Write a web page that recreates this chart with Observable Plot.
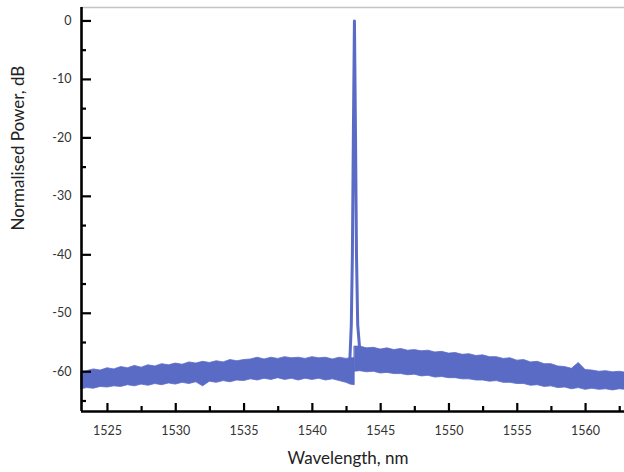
<!DOCTYPE html>
<html><head><meta charset="utf-8">
<script src="https://cdn.jsdelivr.net/npm/d3@7"></script>
<script src="https://cdn.jsdelivr.net/npm/@observablehq/plot@0.6"></script>
<style>body{margin:0;background:#fff;} #chart{width:624px;height:472px;}</style>
</head><body><div id="chart"></div>
<script>
// Noise floor left of the lasing line (wavelength nm, upper / lower envelope dB)
const leftWl = [1523.1, 1523.5, 1524, 1524.5, 1525, 1525.5, 1526, 1526.5, 1527, 1527.5, 1528, 1528.5, 1529, 1529.5, 1530, 1530.5, 1531, 1531.5, 1532, 1532.5, 1533, 1533.5, 1534, 1534.5, 1535, 1535.5, 1536, 1536.5, 1537, 1537.5, 1538, 1538.5, 1539, 1539.5, 1540, 1540.5, 1541, 1541.5, 1542, 1542.5, 1542.8, 1543.1];
const leftHi = [-60.0, -59.9, -59.6, -59.8, -59.4, -59.6, -59.2, -59.4, -59.0, -59.3, -58.9, -59.1, -58.7, -58.9, -58.6, -58.8, -58.4, -58.6, -58.3, -58.5, -58.2, -58.4, -58.0, -58.2, -58.0, -57.9, -57.6, -57.9, -57.6, -57.8, -57.5, -57.7, -57.6, -57.8, -57.5, -57.7, -57.6, -57.9, -57.6, -57.8, -57.7, -57.7];
const leftLo = [-63.0, -62.8, -62.9, -62.6, -62.7, -62.5, -62.6, -62.3, -62.5, -62.2, -62.4, -62.1, -62.3, -62.0, -62.2, -61.9, -62.1, -61.8, -62.5, -61.7, -61.9, -61.6, -61.8, -61.5, -61.6, -61.3, -61.5, -61.2, -61.4, -61.1, -61.4, -61.2, -61.5, -61.2, -61.4, -61.2, -61.5, -61.3, -61.6, -61.9, -62.2, -62.3];
// Noise floor right of the lasing line
const rightWl = [1543.1, 1543.5, 1544, 1544.5, 1545, 1545.5, 1546, 1546.5, 1547, 1547.5, 1548, 1548.5, 1549, 1549.5, 1550, 1550.5, 1551, 1551.5, 1552, 1552.5, 1553, 1553.5, 1554, 1554.5, 1555, 1555.5, 1556, 1556.5, 1557, 1557.5, 1558, 1558.5, 1559, 1559.5, 1560, 1560.5, 1561, 1561.5, 1562, 1562.5, 1563];
const rightHi = [-55.7, -55.7, -56.0, -55.9, -56.2, -56.0, -56.3, -56.1, -56.4, -56.3, -56.5, -56.4, -56.7, -56.6, -56.9, -56.8, -57.1, -57.0, -57.3, -57.2, -57.5, -57.5, -57.8, -57.7, -58.1, -58.0, -58.4, -58.3, -58.7, -58.7, -59.1, -59.2, -59.5, -58.5, -59.7, -59.8, -60.0, -59.9, -60.1, -60.0, -60.2];
const rightLo = [-60.0, -59.9, -60.1, -60.0, -60.3, -60.2, -60.4, -60.4, -60.6, -60.5, -60.8, -60.7, -61.0, -60.9, -61.1, -61.1, -61.3, -61.3, -61.5, -61.5, -61.7, -61.6, -61.9, -61.9, -62.1, -62.1, -62.4, -62.3, -62.6, -62.5, -62.8, -62.7, -63.0, -62.8, -63.1, -62.9, -63.1, -63.0, -63.2, -63.0, -63.1];
// Lasing peak
const peakWl = [1542.75, 1542.85, 1542.93, 1543.0, 1543.08, 1543.16, 1543.23, 1543.32, 1543.45];
const peakDb = [-57.7, -52, -40, -20, 0, -20, -40, -52, -55.7];

const xMajor = [1525, 1530, 1535, 1540, 1545, 1550, 1555, 1560];
const xMinor = [1527.5, 1532.5, 1537.5, 1542.5, 1547.5, 1552.5, 1557.5, 1562.5];
const yMajor = [0, -10, -20, -30, -40, -50, -60];
const yMinor = [-5, -15, -25, -35, -45, -55, -65];
const xDomain = [1523.1, 1562.85];
const yDomain = [-66.8, 2.3];
const xTitle = "Wavelength, nm";
const yTitle = "Normalised Power, dB";
const color = "#5a6bc5";

const band = (w, hi, lo) => w.map((d, i) => ({wl: d, hi: hi[i], lo: lo[i]}));
const leftBand = band(leftWl, leftHi, leftLo);
const rightBand = band(rightWl, rightHi, rightLo);
const peak = peakWl.map((d, i) => ({wl: d, db: peakDb[i]}));

const chart = Plot.plot({
  width: 624, height: 472,
  marginLeft: 81, marginRight: 0, marginTop: 7, marginBottom: 61,
  style: {fontFamily: "Lato, 'Open Sans', sans-serif", fontSize: "12.5px", color: "#333", background: "#fff"},
  x: {domain: xDomain},
  y: {domain: yDomain},
  marks: [
    Plot.areaY(leftBand, {x: "wl", y1: "lo", y2: "hi", fill: color, stroke: color, strokeWidth: 0.8}),
    Plot.areaY(rightBand, {x: "wl", y1: "lo", y2: "hi", fill: color, stroke: color, strokeWidth: 0.8}),
    Plot.line(peak, {x: "wl", y: "db", stroke: color, strokeWidth: 3, strokeLinejoin: "round"}),
    Plot.ruleY([yDomain[1]], {stroke: "#c4c4c4", strokeWidth: 1.5}),
    Plot.ruleX(xMajor, {x: d => d, y1: yDomain[0], y2: yDomain[0], insetTop: -8, stroke: "#000", strokeWidth: 2.2}),
    Plot.ruleX(xMinor, {x: d => d, y1: yDomain[0], y2: yDomain[0], insetTop: -5, stroke: "#000", strokeWidth: 2.2}),
    Plot.ruleY(yMajor, {y: d => d, x1: xDomain[0], x2: xDomain[0], insetRight: -10, stroke: "#000", strokeWidth: 2.2}),
    Plot.ruleY(yMinor, {y: d => d, x1: xDomain[0], x2: xDomain[0], insetRight: -5, stroke: "#000", strokeWidth: 2.2}),
    Plot.ruleX([xDomain[0]], {stroke: "#000", strokeWidth: 2.6}),
    Plot.ruleY([yDomain[0]], {stroke: "#000", strokeWidth: 2.6}),
    Plot.axisX({ticks: xMajor, tickSize: 0, tickPadding: 15, tickFormat: d => String(d), label: null}),
    Plot.axisY({ticks: yMajor, tickSize: 0, tickPadding: 10, tickFormat: d => String(d), label: null}),
    Plot.text([xTitle], {text: d => d, frameAnchor: "bottom", dy: 52, dx: -5, fontSize: 17, fill: "#222"}),
    Plot.text([yTitle], {text: d => d, frameAnchor: "left", rotate: -90, dx: -63, dy: 21, fontSize: 17, fill: "#222"})
  ]
});
document.getElementById("chart").appendChild(chart);
</script>
</body></html>
